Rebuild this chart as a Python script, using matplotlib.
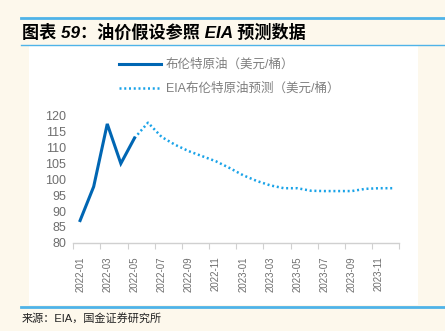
import matplotlib
matplotlib.use("Agg")
import matplotlib.pyplot as plt
from matplotlib.lines import Line2D
from matplotlib.patches import Rectangle

plt.rcParams['font.family'] = ['Liberation Sans', 'Noto Sans CJK SC', 'DejaVu Sans']

months = ["2022-01", "2022-02", "2022-03", "2022-04", "2022-05", "2022-06",
          "2022-07", "2022-08", "2022-09", "2022-10", "2022-11", "2022-12",
          "2023-01", "2023-02", "2023-03", "2023-04", "2023-05", "2023-06",
          "2023-07", "2023-08", "2023-09", "2023-10", "2023-11", "2023-12"]
actual = [87.0, 97.7, 117.5, 105.0, 113.0]
forecast = [113.0, 117.9, 113.4, 110.9, 108.9, 107.3, 105.7, 103.6, 101.3, 99.5,
            98.1, 97.2, 97.2, 96.4, 96.3, 96.3, 96.3, 97.0, 97.2, 97.2]
forecast_start = 4
label_actual = "布伦特原油（美元/桶）"
label_forecast = "EIA布伦特原油预测（美元/桶）"
title = "图表 59：油价假设参照 EIA 预测数据"
source = "来源：EIA，国金证券研究所"
yticks = [80, 85, 90, 95, 100, 105, 110, 115, 120]

W, H = 445, 331
bg = '#FDF8EC'
accent = '#4FB3E8'
fig = plt.figure(figsize=(W / 100, H / 100), dpi=100, facecolor=bg)

def fx(px):
    return px / W

def fy(py):
    return 1 - py / H

# decorative lines and white panel
fig.add_artist(Line2D([fx(21), 1], [fy(18), fy(18)], color=accent, lw=2.0))
fig.add_artist(Line2D([fx(21), 1], [fy(44.5), fy(44.5)], color=accent, lw=1.0))
fig.add_artist(Rectangle((fx(29), fy(305)), fx(418) - fx(29), fy(45) - fy(305),
                         facecolor='white', edgecolor='none', zorder=0.5))
fig.add_artist(Line2D([fx(21), 1], [fy(306.5), fy(306.5)], color=accent, lw=2.0))

fig.text(fx(22), fy(32), title, fontsize=12.3, fontweight='bold', style='italic',
         color='black', va='center', ha='left',
         family=['Liberation Sans', 'Noto Sans CJK SC'])
fig.text(fx(22), fy(318), source, fontsize=8, color='#222222', va='center',
         ha='left', family=['Liberation Sans', 'Noto Sans CJK SC'])

ax = fig.add_axes([fx(73.3), fy(242.7), fx(399.3) - fx(73.3), fy(116) - fy(242.7)])
ax.set_facecolor('none')
ax.set_zorder(2)

x_act = list(range(len(actual)))
x_fc = list(range(forecast_start, forecast_start + len(forecast)))
l1, = ax.plot(x_act, actual, color='#0066B3', lw=2.2, solid_joinstyle='miter',
              label=label_actual, zorder=3)
l2, = ax.plot(x_fc, forecast, color='#1AA3E8', lw=1.8, linestyle=(0, (0.8, 1.1)),
              dash_capstyle='butt', label=label_forecast, zorder=2)

ax.set_xlim(-0.5, len(months) - 0.5)
ax.set_ylim(80, 120)
ax.set_yticks(yticks)
ax.set_yticklabels([str(v) for v in yticks])

major = [i - 0.5 for i in range(0, len(months) + 1, 2)]
ax.set_xticks(major)
ax.set_xticklabels([''] * len(major))
minor = list(range(0, len(months), 2))
ax.set_xticks(minor, minor=True)
ax.set_xticklabels([months[i] for i in minor], minor=True, rotation=90,
                   fontsize=7, color='#6e6e6e')
ax.tick_params(axis='x', which='major', length=4, color='#d0d0d0', width=0.8,
               direction='out')
ax.tick_params(axis='x', which='minor', length=0, pad=10)
ax.tick_params(axis='y', length=0, labelsize=9, labelcolor='#6e6e6e', pad=5)

for s in ['top', 'right', 'left']:
    ax.spines[s].set_visible(False)
ax.spines['bottom'].set_color('#d0d0d0')
ax.spines['bottom'].set_linewidth(1.0)

leg = ax.legend(handles=[l1, l2], loc='upper left',
                bbox_to_anchor=(fx(119), fy(59)), bbox_transform=fig.transFigure,
                frameon=False, fontsize=9, handlelength=3.35, handletextpad=0.4,
                labelspacing=0.93, borderpad=0, borderaxespad=0)
for t in leg.get_texts():
    t.set_color('#7f7f7f')

fig.savefig('out.png', dpi=100, facecolor=bg)
